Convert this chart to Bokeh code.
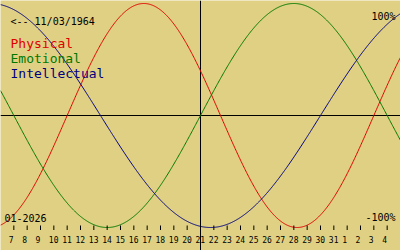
from datetime import date, timedelta
import numpy as np
from bokeh.plotting import figure
from bokeh.models import Range1d, Label, ColumnDataSource
from bokeh.core.properties import value
from bokeh.embed import file_html
from bokeh.resources import INLINE

# ---- data ----
birth = date(1964, 3, 11)          # shown as 11/03/1964
month_start = date(2026, 1, 1)     # 01-2026
center_day = 21                    # centre line (today)
cycles = ["Physical", "Emotional", "Intellectual"]
periods = [23, 28, 33]
colors = ["#e00000", "#007800", "#000080"]
tick_days = list(range(7, 36))
tick_labels = ["7", "8", "9", "10", "11", "12", "13", "14", "15", "16", "17",
               "18", "19", "20", "21", "22", "23", "24", "25", "26", "27", "28",
               "29", "30", "31", "1", "2", "3", "4"]
day_min, day_max = 6, 36

BG = "#dfd083"
FONT = "DejaVu Sans Mono"

# y mapping: 0 at pixel 115, amplitude 112 px in a 250 px frame
ymax = 115 / 112
ymin = -(250 - 115) / 112

p = figure(width=400, height=250, output_backend="svg", toolbar_location=None,
           x_range=Range1d(day_min, day_max), y_range=Range1d(ymin, ymax),
           min_border=0, background_fill_color=BG, border_fill_color=BG)
p.axis.visible = False
p.grid.visible = False
p.outline_line_color = None

# axes lines
p.line([day_min, day_max], [0, 0], line_color="black", line_width=1)
p.line([center_day, center_day], [ymin, ymax], line_color="black", line_width=1)

# curves
t = np.linspace(day_min, day_max, 601)
base = (month_start - birth).days
for name, per, col in zip(cycles, periods, colors):
    days = base + (t - 1)
    p.line(t, np.sin(2 * np.pi * days / per), line_color=col, line_width=1)

# day ticks
def py(pix):
    return (115 - pix) / 112

src = ColumnDataSource(dict(x=tick_days, lab=tick_labels,
                            y0=[py(225)] * len(tick_days),
                            y1=[py(229.5)] * len(tick_days),
                            ty=[py(239)] * len(tick_days)))
p.segment(x0="x", y0="y0", x1="x", y1="y1", source=src, line_color="black", line_width=1)
p.text(x="x", y="ty", text="lab", source=src, text_font=value(FONT),
       text_font_size="8px", text_align="left", text_baseline="alphabetic",
       x_offset=-5, text_color="black")

def lab(txt, x, y, col="black", size="10px", align="left"):
    p.add_layout(Label(x=x, y=250 - y, x_units="screen", y_units="screen", text=txt,
                       text_color=col, text_font=FONT, text_font_size=size,
                       text_align=align, text_baseline="alphabetic"))

lab("<-- 11/03/1964", 10, 21)
for name, col, yb in zip(cycles, colors, [43, 57.5, 72.5]):
    lab(name, 10, yb, col, "13px")
lab("100%", 395, 16, align="right")
lab("-100%", 395, 217, align="right")
lab("01-2026", 4, 217)

open("out.html", "w").write(file_html(p, INLINE))
